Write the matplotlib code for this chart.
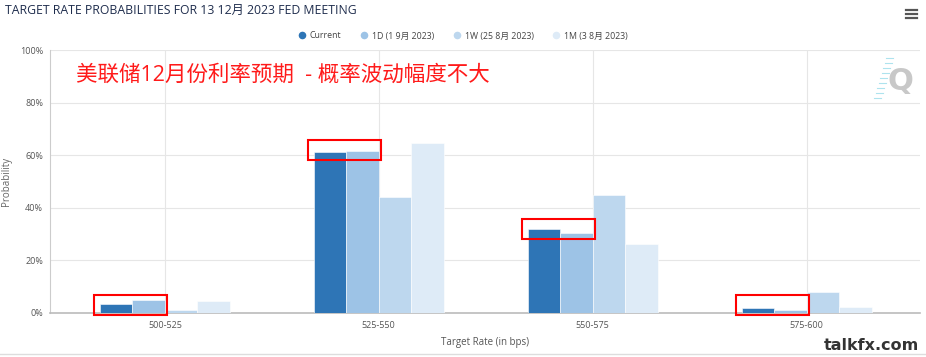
import numpy as np
import matplotlib
matplotlib.use("Agg")
import matplotlib.pyplot as plt
from matplotlib.lines import Line2D
from matplotlib.patches import Rectangle

cjk = ['Open Sans', 'Noto Sans CJK SC', 'DejaVu Sans']
plt.rcParams['font.family'] = cjk

# data
categories = ['500-525', '525-550', '550-575', '575-600']
series_names = ['Current', '1D (1 9月 2023)', '1W (25 8月 2023)', '1M (3 8月 2023)']
current = [3.4, 61.3, 31.8, 1.8]
d1 = [5.0, 61.5, 30.5, 1.2]
w1 = [1.2, 44.2, 44.8, 8.0]
m1 = [4.7, 64.8, 26.2, 2.3]
colors = ['#2e75b6', '#9dc3e6', '#bdd7ee', '#deebf7']

fig = plt.figure(figsize=(9.26, 3.57), dpi=100)
ax = fig.add_axes([50/926, 1-313/357, 870/926, 263/357])

x = np.arange(len(categories))
w = 0.152
for i, (vals, name, c) in enumerate(zip([current, d1, w1, m1], series_names, colors)):
    ax.bar(x + (i - 1.5) * w, vals, width=w, color=c, label=name,
           edgecolor='white', linewidth=0.4, zorder=3)

ax.set_xlim(-0.537, 3.53)
ax.set_ylim(0, 100)
ax.set_yticks([0, 20, 40, 60, 80, 100])
ax.set_yticklabels(['0%', '20%', '40%', '60%', '80%', '100%'])
ax.set_xticks(x)
ax.set_xticklabels(categories)
ax.tick_params(axis='both', length=0, labelsize=6.5, colors='#555555')
ax.tick_params(axis='x', pad=6)
ax.tick_params(axis='y', pad=5)
ax.grid(True, color='#e6e6e6', linewidth=0.8, zorder=0)
for s in ['top', 'right']:
    ax.spines[s].set_visible(False)
ax.spines['left'].set_color('#cccccc')
ax.spines['bottom'].set_color('#bbbbbb')
ax.spines['bottom'].set_linewidth(1.2)
ax.set_ylabel('Probability', fontsize=7, color='#666666')
ax.yaxis.set_label_coords(-38/870, 0.5)
ax.set_xlabel('Target Rate (in bps)', fontsize=7, color='#555555', labelpad=5)

# red highlight boxes around the tops of Current and 1D bars
for xi, a, b in zip(x, current, d1):
    top = max(a, b)
    y0 = -0.8 if top < 10 else top - 3.5
    ax.add_patch(Rectangle((xi - 2 * w - 0.025, y0), 2 * w + 0.037, 7.6,
                           fill=False, edgecolor='red', linewidth=1.5,
                           zorder=5, clip_on=False))

ax.text(0.03, 0.905, '美联储12月份利率预期  - 概率波动幅度不大', transform=ax.transAxes,
        fontsize=15.5, color='#ff1a1a', va='center', ha='left', family=cjk)

fig.text(5/926, 1-10/357, 'TARGET RATE PROBABILITIES FOR 13 12月 2023 FED MEETING',
         fontsize=8.8, color='#1f2d4d', va='center', ha='left', family=cjk)

# legend with circle markers
leg_markers = [Line2D([0], [0], marker='o', color='w', markerfacecolor=c,
                      markersize=6.5, linestyle='None') for c in colors]
fig.legend(leg_markers, series_names, loc='center', bbox_to_anchor=(463/926, 1-36/357),
           ncol=4, frameon=False, fontsize=6.3, handlelength=0.8,
           columnspacing=2.2, handletextpad=0.5, labelcolor='#444444')

# hamburger menu
for yy in [10, 14, 18]:
    fig.add_artist(Line2D([906/926, 917/926], [1-yy/357, 1-yy/357],
                          color='#555555', linewidth=1.6))

# Q logo
fig.text(900/926, 1-82/357, 'Q', fontsize=22, fontweight='bold', color='#c8c8c8',
         ha='center', va='center', family='DejaVu Sans')
for k in range(9):
    yy = 58 + k * 5
    xs = 893 - k * 1.5
    fig.add_artist(Line2D([(xs - 7)/926, xs/926], [1-yy/357, 1-yy/357],
                          color='#aee3ee', linewidth=0.8))

# watermark
fig.text(919/926, 1-345/357, 'talkfx.com', fontsize=11.5, fontweight='heavy',
         color='#333333', ha='right', va='center', family='DejaVu Sans')
fig.add_artist(Line2D([0, 1], [1-354/357, 1-354/357], color='#dddddd', linewidth=1))

fig.savefig('out.png', dpi=100)
